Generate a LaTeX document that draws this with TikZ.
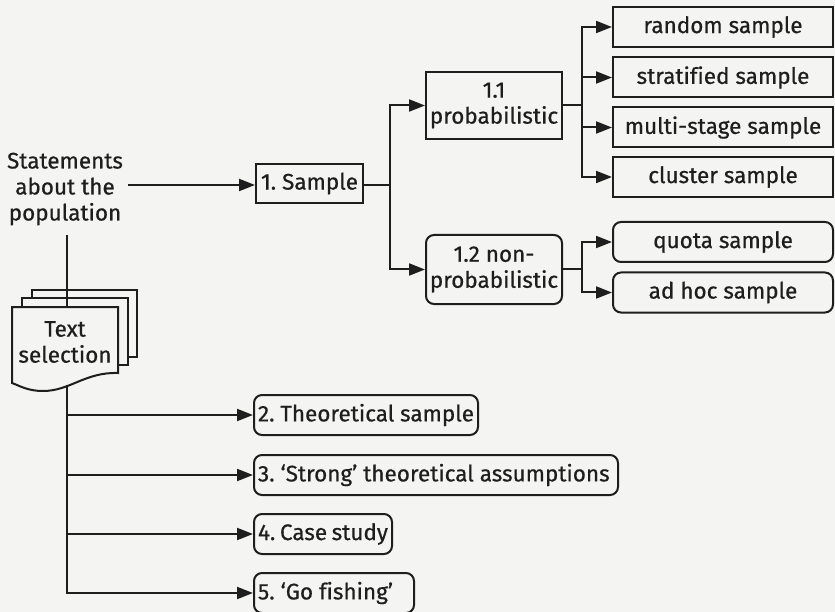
\documentclass[tikz,border=0pt]{standalone}
\usepackage{fontspec}
\setmainfont{Fira Sans}[Ligatures=NoCommon, UprightFeatures={FakeBold=0.6}]
\usetikzlibrary{arrows.meta}
\definecolor{bg}{HTML}{F4F4F2}
\definecolor{ink}{HTML}{1E1E1E}
\frenchspacing
% a left-aligned line of fixed width for the rounded strategy boxes
\newcommand{\fixedline}[2]{\hbox to #1{#2\hfil}}
\tikzset{
  every node/.style={font=\fontsize{22.5}{26}\selectfont, text=ink},
  line/.style={draw=ink, line width=2pt},
  arr/.style={line, -{Triangle[length=16pt,width=12pt]}},
  plainbox/.style={line, fill=bg, rectangle, inner sep=0pt, align=center},
  roundbox/.style={plainbox, rounded corners=8pt},
  methodbox/.style={line, fill=bg, rounded corners=8pt, anchor=west, inner xsep=4pt, inner ysep=0pt, minimum height=40pt},
}
\begin{document}
\begin{tikzpicture}[x=1pt, y=-1pt]
  \useasboundingbox[fill=bg] (0,0) rectangle (835,612);

  % left column: statements and text selection
  \node[align=center] (stmt) at (65,189) {Statements\\about the\\population};

  % stacked documents
  \draw[line, fill=bg] (32,290) rectangle (137,357);
  \draw[line, fill=bg] (22,298) rectangle (128,365);
  \draw[line, fill=bg] (12,307) -- (118,307) -- (118,373)
     .. controls (85,372) and (70,391) .. (43,391)
     .. controls (28,391) and (20,386) .. (12,383) -- cycle;
  \coordinate (doctop) at (67,307);
  \coordinate (docbot) at (67,385);
  \node[align=center] (textsel) at (65,342) {Text\\selection};

  % main level boxes
  \node[plainbox, minimum width=107pt, minimum height=39pt] (sample) at (309.5,183.5) {1. Sample};
  \node[plainbox, minimum width=136pt, minimum height=67pt] (prob) at (494,105.5) {1.1\\probabilistic};
  \node[roundbox, minimum width=136pt, minimum height=69pt] (nonprob) at (494,269.5) {1.2 non-\\probabilistic};

  % probabilistic samples
  \node[plainbox, minimum width=220pt, minimum height=40pt] (random) at (723,27) {random sample};
  \node[plainbox, minimum width=220pt, minimum height=40pt] (strat) at (723,77.5) {stratified sample};
  \node[plainbox, minimum width=220pt, minimum height=40pt] (multi) at (723,127.5) {multi-stage sample};
  \node[plainbox, minimum width=220pt, minimum height=40pt] (cluster) at (723,177) {cluster sample};

  % non-probabilistic samples
  \node[roundbox, minimum width=220pt, minimum height=40pt] (quota) at (723,242) {quota sample};
  \node[roundbox, minimum width=220pt, minimum height=40pt] (adhoc) at (723,292.5) {ad hoc sample};

  % other selection strategies
  \node[methodbox] (t2) at (253,415) {\fixedline{216pt}{2. Theoretical sample}};
  \node[methodbox] (t3) at (253,475) {\fixedline{356pt}{3. `Strong' theoretical assumptions}};
  \node[methodbox] (t4) at (253,534) {\fixedline{130pt}{4. Case study}};
  \node[methodbox] (t5) at (253,593) {\fixedline{152pt}{5. `Go fishing'}};

  % connectors
  \draw[arr] (128,185) coordinate (stmtout) -- (stmtout -| sample.west);
  \draw[line] (67,235) coordinate (stmtdown) -- (doctop);

  \coordinate (j1) at (390,185);
  \draw[line] (sample.east |- j1) -- (j1);
  \draw[arr] (j1) |- (prob.west);
  \draw[arr] (j1) |- (nonprob.west);

  \coordinate (j2) at (582,105.5);
  \draw[line] (prob.east) -- (j2);
  \draw[arr] (j2) |- (random.west);
  \draw[arr] (j2) |- (strat.west);
  \draw[arr] (j2) |- (multi.west);
  \draw[arr] (j2) |- (cluster.west);

  \coordinate (j3) at (582,269.5);
  \draw[line] (nonprob.east) -- (j3);
  \draw[arr] (j3) |- (quota.west);
  \draw[arr] (j3) |- (adhoc.west);

  \draw[arr] (docbot) |- (t5.west);
  \draw[arr] (docbot |- t2.west) -- (t2.west);
  \draw[arr] (docbot |- t3.west) -- (t3.west);
  \draw[arr] (docbot |- t4.west) -- (t4.west);
\end{tikzpicture}
\end{document}
